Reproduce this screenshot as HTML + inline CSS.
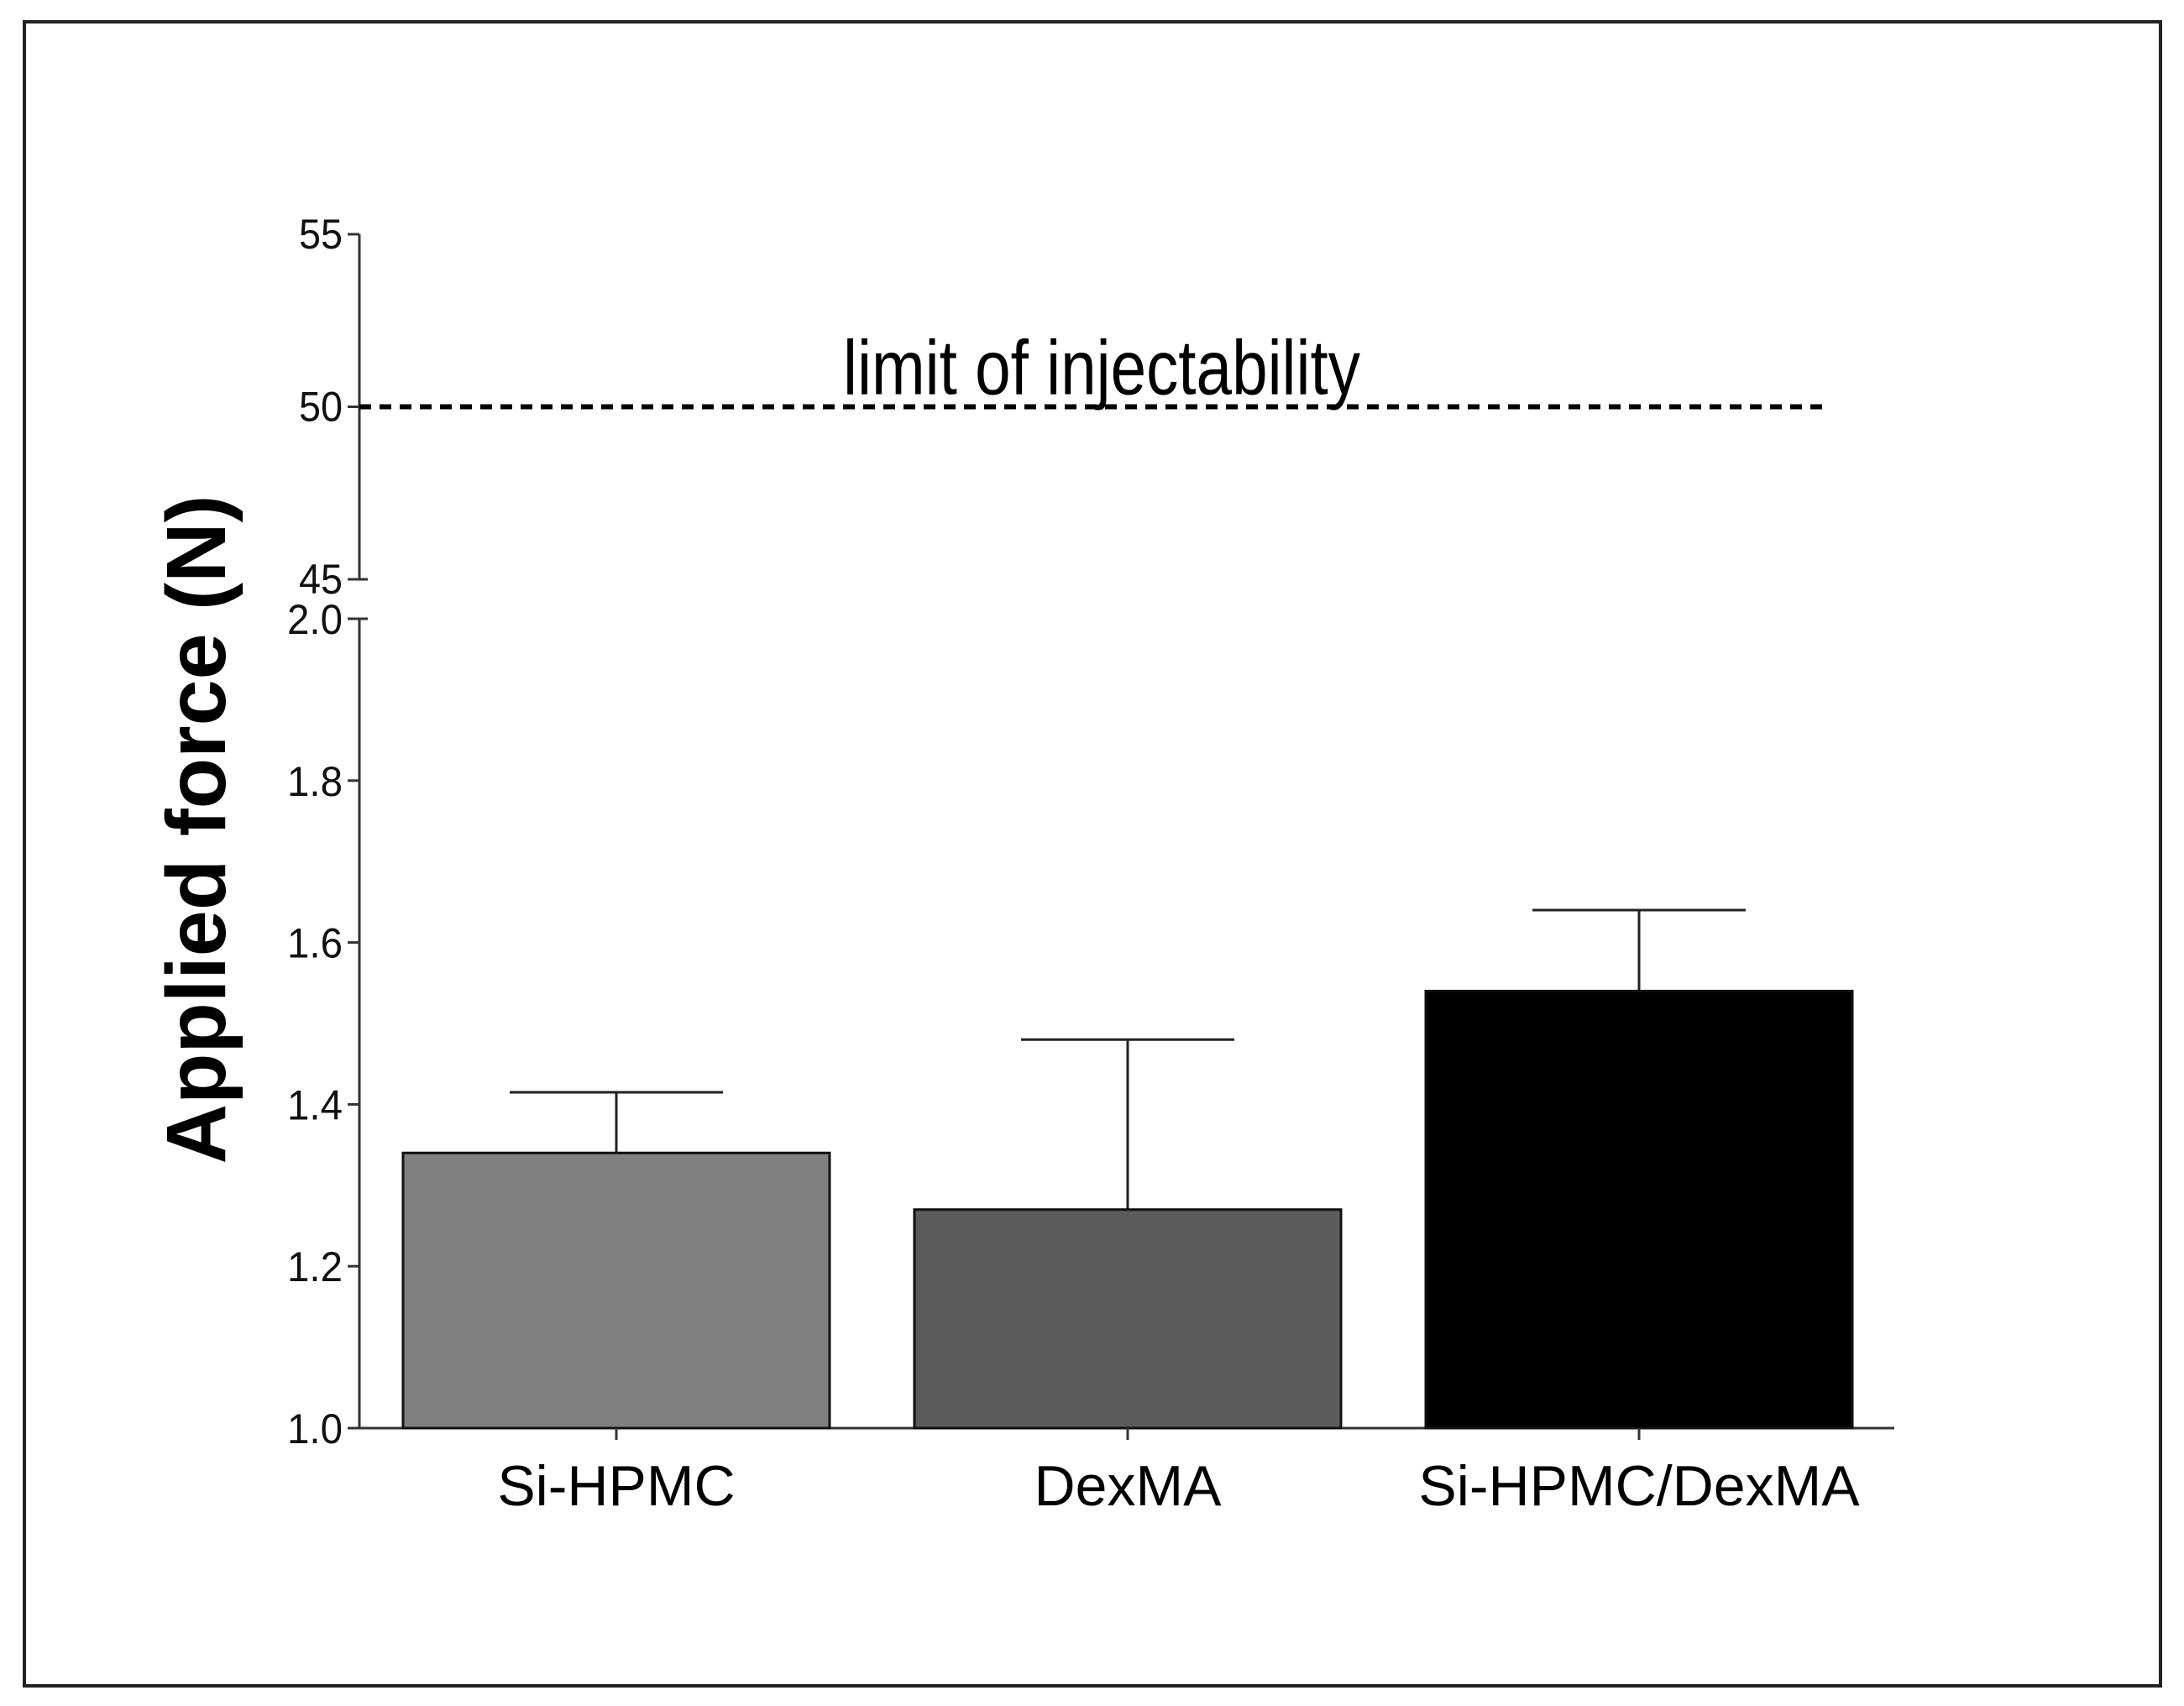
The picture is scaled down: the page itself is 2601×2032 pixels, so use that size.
<!DOCTYPE html>
<html><head><meta charset="utf-8"><style>
html,body{margin:0;padding:0;background:#fff;}
svg{display:block;font-family:"Liberation Sans",Arial,sans-serif;}
</style></head><body>
<svg id="chart" width="2601" height="2032" viewBox="0 0 2601 2032" xmlns="http://www.w3.org/2000/svg">
<rect x="29" y="26" width="2544" height="1982" fill="none" stroke="#222" stroke-width="4"/>
<g id="g"></g>
</svg>
<script>
const categories = ["Si-HPMC","DexMA","Si-HPMC/DexMA"];
const values = [1.34, 1.27, 1.54];
const errors = [0.075, 0.21, 0.10];
const lowerTicks = [1.0, 1.2, 1.4, 1.6, 1.8, 2.0];
const upperTicks = [45, 50, 55];
const limitValue = 50;
const fills = ["#808080","#5c5c5c","#000000"];

const NS="http://www.w3.org/2000/svg";
const g=document.getElementById('g');
function el(t,a,p){const e=document.createElementNS(NS,t);for(const k in a)e.setAttribute(k,a[k]);(p||g).appendChild(e);return e;}
const axX=428;
function yLow(v){return 1701+(v-1.0)*(737-1701)/1.0;}
function yUp(v){return 690+(v-45)*(279-690)/10;}
const xStart=428, xEnd=2256;
function xBand(i){return 480+i*609;}
const bw=508;

let a=el('line',{x1:axX,y1:yUp(55),x2:axX,y2:yUp(45),stroke:'#333','stroke-width':3});


a=el('line',{x1:axX,y1:yLow(2.0),x2:axX,y2:yLow(1.0),stroke:'#333','stroke-width':3});


a=el('line',{x1:xStart-14,y1:yLow(1.0),x2:xEnd,y2:yLow(1.0),stroke:'#333','stroke-width':3});



upperTicks.forEach(t=>{
  const y=yUp(t);
  const l=el('line',{x1:axX-14,y1:y,x2:t===45?axX+10:axX,y2:y,stroke:'#333','stroke-width':3});
  
  
  const tx=el('text',{x:axX-20,y:y+17,'text-anchor':'end','font-size':50,textLength:52,lengthAdjust:'spacingAndGlyphs',fill:'#111'});
  tx.textContent=t;
  
  
});
lowerTicks.forEach(t=>{
  const y=yLow(t);
  const l=el('line',{x1:axX-14,y1:y,x2:t===2.0?axX+10:axX,y2:y,stroke:'#333','stroke-width':3});
  
  
  const tx=el('text',{x:axX-20,y:y+18,'text-anchor':'end','font-size':50,textLength:66,lengthAdjust:'spacingAndGlyphs',fill:'#111'});
  tx.textContent=t.toFixed(1);
  
  
});

const yl=yUp(limitValue);
a=el('line',{x1:axX,y1:yl,x2:2175,y2:yl,stroke:'#000','stroke-width':6,'stroke-dasharray':'14 10'});


a=el('text',{x:1004,y:yl-15,'font-size':92,textLength:616,lengthAdjust:'spacingAndGlyphs',fill:'#000'});
a.textContent='limit of injectability';



categories.forEach((c,i)=>{
  const x=xBand(i), cx=x+bw/2, yt=yLow(values[i]), ye=yLow(values[i]+errors[i]);
  const eb=el('line',{x1:cx,y1:yt,x2:cx,y2:ye,stroke:'#222','stroke-width':3});
  
  
  const cap=el('line',{x1:cx-127,y1:ye,x2:cx+127,y2:ye,stroke:'#222','stroke-width':3});
  
  
  const r=el('rect',{x:x,y:yt,width:bw,height:yLow(1.0)-yt,fill:fills[i],stroke:'#111','stroke-width':3});
  
  
  const tk=el('line',{x1:cx,y1:yLow(1.0),x2:cx,y2:yLow(1.0)+14,stroke:'#333','stroke-width':3});
  
  
  const lb=el('text',{x:cx,y:1793,'text-anchor':'middle','font-size':68,fill:'#000'});
  lb.textContent=c;
  
  
});

a=el('text',{x:0,y:0,'text-anchor':'middle','font-size':100,'font-weight':'bold',fill:'#000',transform:'translate(268,988) rotate(-90)',textLength:797,lengthAdjust:'spacingAndGlyphs'});
a.textContent='Applied force (N)';


</script>
</body></html>
